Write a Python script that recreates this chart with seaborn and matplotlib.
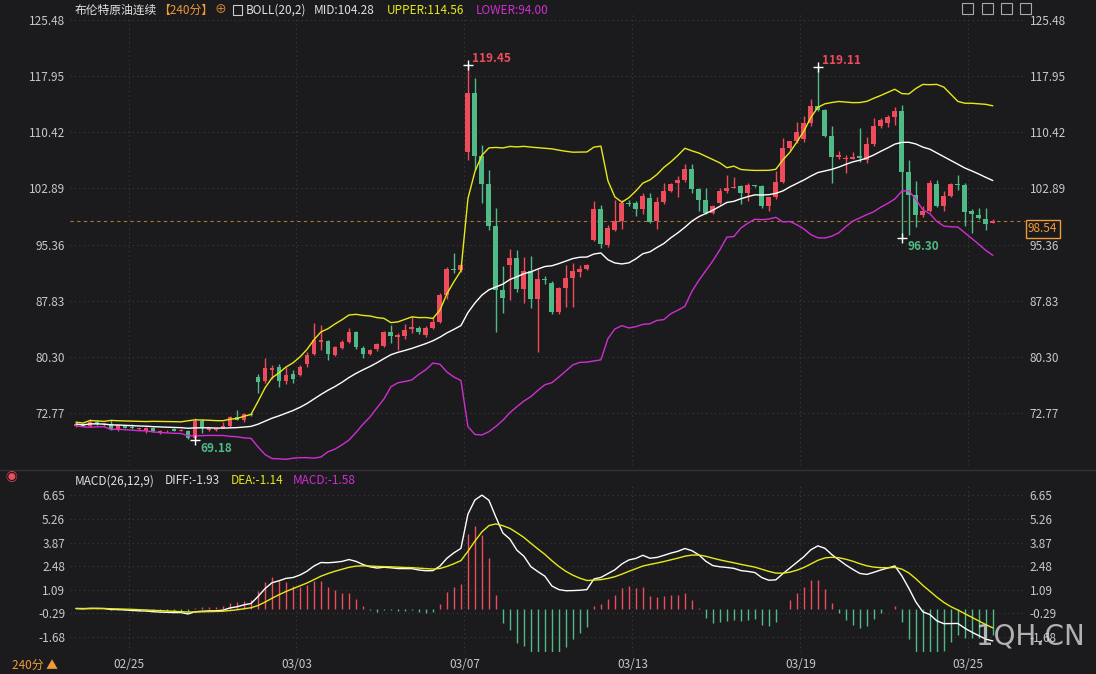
import numpy as np
import pandas as pd
import matplotlib
matplotlib.use("Agg")
import matplotlib.pyplot as plt
import seaborn as sns
from matplotlib.patches import Rectangle

opens = [71.03,71.2,71.0,71.6,71.2,71.25,70.6,71.1,70.85,70.6,70.3,70.75,70.1,70.3,70.6,70.4,70.4,69.4,71.7,70.5,
         70.5,70.8,71.0,72.3,71.8,72.6,77.6,77.0,78.6,78.9,77.0,78.0,77.9,79.3,80.7,82.3,82.4,80.6,81.5,82.3,
         83.6,81.5,80.7,81.3,81.8,83.6,83.0,83.1,84.1,84.2,83.2,84.2,85.0,88.6,92.1,91.9,107.8,115.7,107.2,103.5,
         97.9,89.3,92.6,93.5,89.4,91.8,88.1,90.7,90.2,86.3,89.5,90.9,91.7,92.1,96.0,100.1,95.3,97.3,98.5,100.9,
         100.9,100.1,101.6,98.5,101.1,102.5,103.6,104.0,105.5,102.8,101.4,99.6,101.0,102.6,103.0,103.2,102.3,103.3,103.2,100.5,
         101.7,103.8,108.3,109.2,109.5,111.7,114.0,113.4,109.9,107.1,106.8,106.9,107.2,106.7,108.9,111.2,111.7,112.5,113.3,105.1,
         102.0,99.3,99.9,103.5,100.6,101.9,103.5,103.4,99.8,99.3,98.8,98.3]
highs = [71.4,71.4,72.0,71.8,71.4,71.8,71.2,71.2,71.3,70.8,70.9,70.9,70.5,70.5,70.8,70.6,70.5,72.1,72.0,70.9,
         70.8,71.5,72.4,73.2,72.8,72.8,78.0,80.1,79.2,79.3,78.9,78.5,79.2,80.9,84.8,84.6,82.6,81.8,82.5,84.2,
         83.8,81.7,81.4,82.2,83.8,84.6,83.5,84.7,85.8,84.4,84.4,85.6,88.9,92.3,94.2,92.8,119.45,117.7,108.7,105.4,
         100.3,92.5,94.8,94.6,93.7,93.8,92.1,91.1,90.5,89.7,92.6,92.9,92.6,92.8,101.2,100.7,98.0,101.3,101.3,101.3,
         101.2,102.3,102.3,101.7,103.6,103.6,104.5,106.2,106.2,103.0,102.9,100.7,102.9,104.7,104.4,103.3,103.6,103.4,103.4,101.8,
         105.2,109.7,109.3,111.8,112.6,114.9,119.11,113.6,111.3,107.9,107.4,107.8,111.0,109.8,112.3,112.3,112.8,113.8,114.1,106.7,
         103.9,100.5,104.0,104.0,102.6,103.6,104.7,103.6,100.1,100.2,100.2,98.8]
lows = [70.9,71.0,70.9,71.2,71.0,70.5,70.4,70.7,70.6,70.5,70.1,70.2,70.0,70.2,70.3,70.3,69.3,69.18,70.1,70.4,
        70.3,70.7,70.9,71.8,71.6,72.4,75.5,76.8,77.3,76.3,76.7,76.8,77.7,79.0,80.5,81.2,79.9,80.4,81.3,82.1,
        81.4,80.1,80.5,81.1,81.6,82.2,81.2,82.7,83.5,83.4,83.0,84.0,84.8,88.0,91.5,91.7,106.7,105.4,100.9,97.3,
        83.6,86.2,87.9,89.0,87.5,86.9,80.9,90.1,86.0,86.0,87.0,87.0,91.0,91.9,95.8,94.9,95.1,97.2,97.4,100.5,
        99.2,99.4,98.3,97.4,100.8,102.4,101.7,103.8,102.3,99.9,99.4,99.5,100.8,102.3,102.9,100.8,101.2,103.1,100.3,99.9,
        101.5,103.6,108.1,109.0,109.1,111.3,113.3,109.8,103.6,106.9,104.9,106.8,106.4,106.3,108.6,111.0,111.1,111.4,96.30,96.6,
        97.7,99.1,99.7,100.4,99.9,101.8,102.7,97.9,96.9,98.8,97.3,98.2]
closes = [71.3,71.05,71.6,71.3,71.2,70.6,71.1,70.8,70.7,70.65,70.75,70.3,70.4,70.4,70.35,70.45,69.4,71.7,70.9,70.8,
          70.6,71.0,72.3,71.9,72.6,72.5,76.9,78.8,78.8,77.0,77.9,77.4,79.0,80.6,82.6,82.5,80.7,81.6,82.3,83.6,
          81.6,80.7,81.2,82.0,83.6,83.1,83.2,83.9,84.3,83.6,84.2,85.0,88.6,92.1,92.0,92.6,115.7,107.2,103.5,97.9,
          89.3,88.2,93.5,89.4,91.8,88.1,90.8,90.6,86.3,89.5,90.9,91.8,92.1,92.6,100.1,95.4,97.6,98.5,100.9,100.85,
          100.1,101.9,98.4,101.1,102.6,103.5,104.0,105.5,102.8,101.4,99.6,100.5,102.5,103.0,103.1,102.3,103.3,103.25,100.5,101.7,
          103.8,108.3,109.2,110.5,111.7,114.0,113.4,109.9,107.1,107.4,107.0,107.1,107.0,108.9,111.3,112.1,112.5,113.3,105.1,102.0,
          99.3,99.9,103.6,100.5,101.9,103.5,103.4,99.7,99.4,98.9,98.1,98.54]

date_labels = ["02/25", "03/03", "03/07", "03/13", "03/19", "03/25"]
date_pos = [7.5, 31.5, 55.5, 79.5, 103.5, 127.5]
price_ticks = [125.48, 117.95, 110.42, 102.89, 95.36, 87.83, 80.30, 72.77]
macd_ticks = [6.65, 5.26, 3.87, 2.48, 1.09, -0.29, -1.68]
last_price = 98.54

df = pd.DataFrame({"o": opens, "h": highs, "l": lows, "c": closes})
df["i"] = np.arange(len(df))
df["mid"] = df["c"].rolling(20, min_periods=1).mean()
sd = df["c"].rolling(20, min_periods=2).std(ddof=0).bfill()
df["upper"] = df["mid"] + 2 * sd
df["lower"] = df["mid"] - 2 * sd
e12 = df["c"].ewm(span=12, adjust=False).mean()
e26 = df["c"].ewm(span=26, adjust=False).mean()
df["dif"] = e12 - e26
df["dea"] = df["dif"].ewm(span=9, adjust=False).mean()
df["bar"] = 2 * (df["dif"] - df["dea"])

BG = "#1b1b1d"
RED = "#ee4b5b"
GREEN = "#4fba86"
GRID = "#3c3c3c"
TXT = "#c8c8c8"
ORANGE = "#f29a38"
YEL = "#e8e81a"
MAG = "#d12ed1"

sns.set_theme(style="dark")
plt.rcParams["font.family"] = ["Noto Sans CJK SC", "DejaVu Sans"]
plt.rcParams["axes.unicode_minus"] = False

fig = plt.figure(figsize=(10.96, 6.74), dpi=100, facecolor=BG)
L, R = 70 / 1096, 1025 / 1096
ax = fig.add_axes([L, 1 - 465 / 674, R - L, (465 - 15) / 674])
ax2 = fig.add_axes([L, 1 - 652 / 674, R - L, (652 - 484) / 674])
xl = (-0.86, 135.6)
for a in (ax, ax2):
    a.set_facecolor(BG)
    for s in a.spines.values():
        s.set_visible(False)
    a.set_xlim(*xl)
    a.tick_params(axis="both", length=0, colors=TXT, labelsize=8.5)
    a.yaxis.set_tick_params(labelleft=True, labelright=True)
    for p in date_pos:
        a.axvline(p, color=GRID, lw=0.8, ls=(0, (1, 3)), zorder=0)

up = df["c"] >= df["o"]
for mask, col in ((up, RED), (~up, GREEN)):
    d = df[mask]
    ax.vlines(d["i"], d["l"], d["h"], color=col, lw=1, zorder=3)
    hgt = (d["c"] - d["o"]).abs().clip(lower=0.12)
    ax.bar(d["i"], hgt, bottom=np.minimum(d["o"], d["c"]), width=0.7, color=col, zorder=4, linewidth=0)

sns.lineplot(x=df["i"], y=df["mid"], ax=ax, color="white", lw=1, zorder=5)
sns.lineplot(x=df["i"], y=df["upper"], ax=ax, color=YEL, lw=1, zorder=5)
sns.lineplot(x=df["i"], y=df["lower"], ax=ax, color=MAG, lw=1, zorder=5)
ax.set_xlim(*xl)
ax.set_ylim(65.8, 126.15)
ax.set_yticks(price_ticks)
ax.set_yticklabels([f"{t:.2f}" for t in price_ticks])
for t in price_ticks:
    ax.axhline(t, color=GRID, lw=0.8, ls=(0, (1, 3)), zorder=0)
ax.set_xticks([])
ax.set_xlabel(""); ax.set_ylabel("")
ax.axhline(last_price, color=ORANGE, lw=0.8, ls=(0, (3, 3)), alpha=0.7, zorder=2)
ax.text(1.003, (last_price - 65.8) / (126.15 - 65.8) - 0.018, f"{last_price:.2f}", transform=ax.transAxes,
        color=ORANGE, fontsize=8.5, va="center", ha="left",
        bbox=dict(boxstyle="square,pad=0.2", fc=BG, ec=ORANGE, lw=1))

ih1 = int(np.argmax(highs[:80])); ih2 = 80 + int(np.argmax(highs[80:]))
il1 = int(np.argmin(lows[:60])); il2 = 80 + int(np.argmin(lows[80:]))
for ih in (ih1, ih2):
    ax.plot(ih, highs[ih], marker="+", color="white", ms=7, zorder=6)
    ax.text(ih + 0.6, highs[ih], f"{highs[ih]:.2f}", color=RED, fontsize=8.5, fontweight="bold", va="bottom")
for il in (il1, il2):
    ax.plot(il, lows[il], marker="+", color="white", ms=7, zorder=6)
    ax.text(il + 0.8, lows[il] - 0.3, f"{lows[il]:.2f}", color=GREEN, fontsize=8.5, fontweight="bold", va="top")

hc = np.where(df["bar"] >= 0, RED, GREEN)
ax2.vlines(df["i"], 0, df["bar"], colors=hc, lw=1, zorder=3)
sns.lineplot(x=df["i"], y=df["dif"], ax=ax2, color="white", lw=1, zorder=5)
sns.lineplot(x=df["i"], y=df["dea"], ax=ax2, color=YEL, lw=1, zorder=5)
ax2.set_xlim(*xl)
ax2.set_ylim(-2.55, 7.3)
ax2.set_yticks(macd_ticks)
ax2.set_yticklabels([f"{t:.2f}" for t in macd_ticks])
for t in macd_ticks:
    ax2.axhline(t, color=GRID, lw=0.8, ls=(0, (1, 3)), zorder=0)
ax2.set_xticks(date_pos)
ax2.set_xticklabels(date_labels)
ax2.tick_params(axis="x", pad=4)
ax2.set_xlabel(""); ax2.set_ylabel("")

def t(x, y, s, c, **kw):
    fig.text(x / 1096, 1 - y / 674, s, color=c, fontsize=8.5, va="center", ha="left", **kw)
t(75, 10, "布伦特原油连续", "#e0e0e0")
t(158, 10, "【240分】", ORANGE)
t(214, 10, "⊕", ORANGE)
t(246, 10, "BOLL(20,2)", "#e0e0e0")
t(314, 10, "MID:104.28", "#e0e0e0")
t(387, 10, "UPPER:114.56", YEL)
t(476, 10, "LOWER:94.00", MAG)
t(75, 481, "MACD(26,12,9)", "#e0e0e0")
t(165, 481, "DIFF:-1.93", "#e0e0e0")
t(231, 481, "DEA:-1.14", YEL)
t(293, 481, "MACD:-1.58", MAG)
t(12, 665, "240分 ▲", ORANGE)
t(5, 478, "◉", RED)
fig.text(1085 / 1096, 1 - 637 / 674, "1QH.CN", color="#d8d8d8", alpha=0.8, fontsize=20,
         ha="right", va="center", family=["DejaVu Sans"])
for xx in (962, 982, 1001, 1020):
    fig.patches.append(Rectangle((xx / 1096, 1 - 14 / 674), 11 / 1096, 11 / 674, transform=fig.transFigure,
                                 fill=False, ec="#aaaaaa", lw=0.8))
fig.patches.append(Rectangle((233 / 1096, 1 - 15 / 674), 9 / 1096, 10 / 674, transform=fig.transFigure,
                             fill=False, ec="#cccccc", lw=0.8))
fig.lines.append(plt.Line2D([0, 1], [1 - 470 / 674] * 2, transform=fig.transFigure, color="#333333", lw=1))

fig.savefig("out.png", dpi=100, facecolor=BG)
